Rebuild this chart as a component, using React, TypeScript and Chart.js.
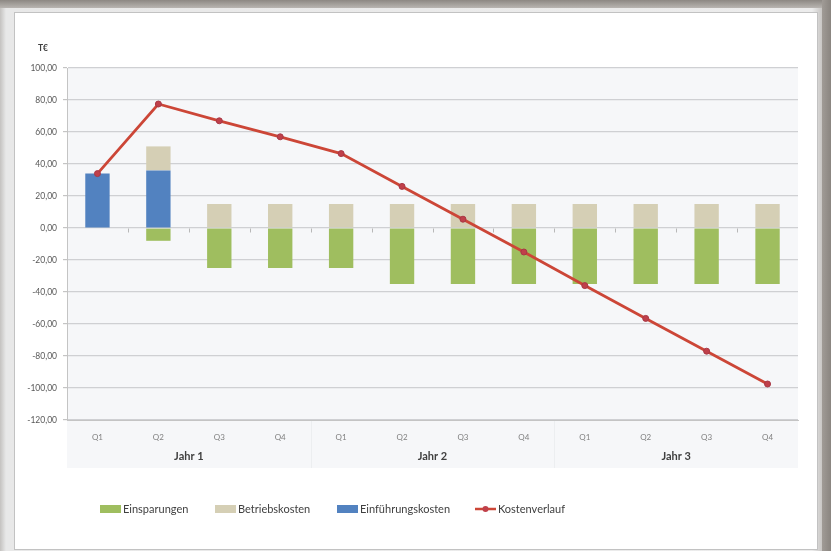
import React, { useEffect, useRef } from 'react';
import { Chart, registerables } from 'chart.js';

Chart.register(...registerables);

const quarters = ['Q1', 'Q2', 'Q3', 'Q4', 'Q1', 'Q2', 'Q3', 'Q4', 'Q1', 'Q2', 'Q3', 'Q4'];
const years = ['Jahr 1', 'Jahr 2', 'Jahr 3'];
const einsparungen = [null, -8, -25, -25, -25, -35, -35, -35, -35, -35, -35, -35];
const betriebskosten = [null, 15, 15, 15, 15, 15, 15, 15, 15, 15, 15, 15];
const einfuehrungskosten = [34, 36, null, null, null, null, null, null, null, null, null, null];
const kostenverlauf = [34, 77.5, 67, 57, 46.5, 26, 5.5, -15, -36, -56.5, -77, -97.5];
const yMin = -120;
const yMax = 100;
const yStep = 20;
const yUnit = 'T€';

const FONT = 'Lato, "Open Sans", "DejaVu Sans", sans-serif';
const legendX = [100, 215, 337, 475];
const legendY = 509;

const decorPlugin = {
  id: 'decor',
  beforeDraw(chart: any) {
    const { ctx, chartArea } = chart;
    const x2 = chart.scales.x2;
    ctx.save();
    ctx.fillStyle = '#f6f7f9';
    ctx.fillRect(chartArea.left, chartArea.top, chartArea.right - chartArea.left, x2.bottom - chartArea.top);
    ctx.strokeStyle = '#eceef0';
    ctx.lineWidth = 1;
    for (let i = 1; i < years.length; i++) {
      const px = Math.round(chartArea.left + ((chartArea.right - chartArea.left) * i) / years.length) + 0.5;
      ctx.beginPath();
      ctx.moveTo(px, chartArea.bottom + 1);
      ctx.lineTo(px, x2.bottom);
      ctx.stroke();
    }
    ctx.restore();
  },
  afterDatasetsDraw(chart: any) {
    const { ctx } = chart;
    const xs = chart.scales.x;
    const ys = chart.scales.y;
    const y0 = Math.round(ys.getPixelForValue(0)) + 0.5;
    ctx.save();
    ctx.strokeStyle = '#b8b8b8';
    ctx.lineWidth = 1;
    for (let i = 1; i < quarters.length; i++) {
      const px = Math.round(xs.getPixelForValue(i - 0.5)) + 0.5;
      ctx.beginPath();
      ctx.moveTo(px, y0);
      ctx.lineTo(px, y0 + 4);
      ctx.stroke();
    }
    ctx.restore();
  },
  afterDraw(chart: any) {
    const { ctx } = chart;
    ctx.save();
    ctx.fillStyle = '#404040';
    ctx.font = `bold 8.5px ${FONT}`;
    ctx.textAlign = 'left';
    ctx.textBaseline = 'middle';
    ctx.fillText(yUnit, 38, 48);
    ctx.font = `11px ${FONT}`;
    chart.data.datasets.forEach((ds: any, i: number) => {
      const x = legendX[i];
      if (ds.type === 'line') {
        ctx.strokeStyle = ds.borderColor;
        ctx.lineWidth = 2.5;
        ctx.beginPath();
        ctx.moveTo(x, legendY);
        ctx.lineTo(x + 21, legendY);
        ctx.stroke();
        ctx.fillStyle = ds.pointBackgroundColor;
        ctx.beginPath();
        ctx.arc(x + 10.5, legendY, 3, 0, Math.PI * 2);
        ctx.fill();
      } else {
        ctx.fillStyle = ds.backgroundColor;
        ctx.fillRect(x, legendY - 4, 21, 8);
      }
      ctx.fillStyle = '#404040';
      ctx.textAlign = 'left';
      ctx.textBaseline = 'middle';
      ctx.fillText(ds.label, x + 23, legendY);
    });
    ctx.restore();
  },
};

export default function App() {
  const ref = useRef<HTMLCanvasElement | null>(null);

  useEffect(() => {
    if (!ref.current) return;
    const chart = new Chart(ref.current, {
      type: 'bar',
      data: {
        labels: quarters,
        datasets: [
          {
            type: 'bar',
            label: 'Einsparungen',
            data: einsparungen,
            backgroundColor: '#9fbe5f',
            stack: 'bars',
            order: 3,
            barPercentage: 0.4,
            categoryPercentage: 1,
          },
          {
            type: 'bar',
            label: 'Betriebskosten',
            data: betriebskosten,
            backgroundColor: '#d5cfb5',
            stack: 'bars',
            order: 2,
            barPercentage: 0.4,
            categoryPercentage: 1,
          },
          {
            type: 'bar',
            label: 'Einführungskosten',
            data: einfuehrungskosten,
            backgroundColor: '#5282c0',
            stack: 'bars',
            order: 1,
            barPercentage: 0.4,
            categoryPercentage: 1,
          },
          {
            type: 'line',
            label: 'Kostenverlauf',
            data: kostenverlauf,
            borderColor: '#cc4637',
            backgroundColor: '#cc4637',
            borderWidth: 2.8,
            pointRadius: 3,
            pointBackgroundColor: '#c0404a',
            pointBorderColor: '#a83846',
            pointBorderWidth: 1,
            stack: 'line',
            order: 0,
            tension: 0,
          } as any,
        ],
      },
      options: {
        animation: false,
        responsive: false,
        devicePixelRatio: 1,
        layout: { padding: { left: 17, top: 68, right: 33, bottom: 83 } },
        plugins: {
          legend: { display: false },
          tooltip: { enabled: false },
          title: { display: false },
        },
        scales: {
          x: {
            type: 'category',
            stacked: true,
            offset: true,
            weight: 0,
            grid: { display: false, drawTicks: false },
            border: { display: true, color: '#c4c4c4', width: 1 },
            ticks: {
              color: '#808080',
              font: { family: FONT, size: 8 },
              padding: 13,
              maxRotation: 0,
              autoSkip: false,
            },
            afterFit: (s: any) => {
              s.height = 26;
            },
          },
          x2: {
            type: 'category',
            labels: years,
            position: 'bottom',
            offset: true,
            weight: 1,
            grid: { display: false, drawTicks: false },
            border: { display: false },
            ticks: {
              color: '#404040',
              font: { family: FONT, size: 11, weight: 'bold' },
              padding: 4,
              maxRotation: 0,
            },
            afterFit: (s: any) => {
              s.height = 22;
            },
          },
          y: {
            stacked: true,
            min: yMin,
            max: yMax,
            grid: { color: '#cfd0d3', lineWidth: 1.2, drawTicks: true, tickLength: 4, tickColor: '#c4c4c4' },
            border: { display: true, color: '#c4c4c4', width: 1 },
            ticks: {
              stepSize: yStep,
              color: '#595959',
              font: { family: FONT, size: 8.5 },
              padding: 6,
              callback: (v: any) => Number(v).toFixed(2).replace('.', ','),
            },
            afterFit: (s: any) => {
              s.width = 50;
            },
          },
        },
      },
      plugins: [decorPlugin],
    });
    return () => chart.destroy();
  }, []);

  return (
    <div
      style={{
        position: 'fixed',
        left: 0,
        top: 0,
        width: 831,
        height: 551,
        overflow: 'hidden',
        background: 'linear-gradient(to bottom, #8d8883 0px, #b9b5b1 8px, #d3d1cf 20px, #d8d6d4 100%)',
      }}
    >
      <div
        style={{
          position: 'absolute',
          left: 0,
          top: 8,
          width: 822,
          height: 545,
          background: 'linear-gradient(to right, #c4c2c0, #e8e8e8 6px, #ececec 812px, #c8c6c4)',
        }}
      />
      <div style={{ position: 'absolute', left: 822, top: 0, width: 9, height: 551, background: 'linear-gradient(to right, #a09b96, #8a8580)' }} />
      <div
        style={{
          position: 'absolute',
          left: 14,
          top: 12,
          width: 804,
          height: 538,
          background: '#ffffff',
          border: '1px solid #c2c2c2',
          boxSizing: 'border-box',
        }}
      />
      <canvas ref={ref} width={831} height={551} style={{ position: 'absolute', left: 0, top: 0, width: 831, height: 551 }} />
    </div>
  );
}
